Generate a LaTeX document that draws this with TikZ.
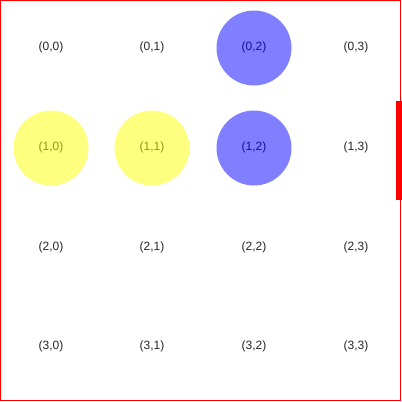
\documentclass[tikz,border=0pt]{standalone}
\usepackage{fontspec}
\setmainfont{Liberation Sans}
\usepackage{xcolor}
\definecolor{gridred}{RGB}{255, 0, 0}
\definecolor{gridblue}{RGB}{0, 0, 255}
\definecolor{gridyellow}{RGB}{255, 255, 0}
\usetikzlibrary{positioning}

\begin{document}
\begin{tikzpicture}[
    x=1pt, y=-1pt,
    cell/.style={inner sep=0pt, anchor=mid, text=black!85, font=\fontsize{12}{14}\selectfont},
    dot/.style={circle, fill=#1, fill opacity=0.5, minimum size=75pt, inner sep=0pt}
]
\useasboundingbox (0,0) rectangle (402,402);

% Marco
\draw[gridred, line width=1pt] (0.5,0.5) rectangle (400.5,400.5);
\fill[gridred] (396,101) rectangle (402,200);

% Etiquetas de la rejilla
\foreach \r/\y in {0/48, 1/148, 2/248, 3/347} {
    \foreach \c/\x in {0/51, 1/152, 2/254, 3/356} {
        \node[cell] (c\r\c) at (\x,\y) {(\r,\c)};
    }
}

% Círculos
\node[dot=gridyellow] (dot10) at (c10.mid) {};
\node[dot=gridyellow] (dot11) at (c11.mid) {};
\node[dot=gridblue] (dot02) at (c02.mid) {};
\node[dot=gridblue] (dot12) at (c12.mid) {};

\end{tikzpicture}
\end{document}
